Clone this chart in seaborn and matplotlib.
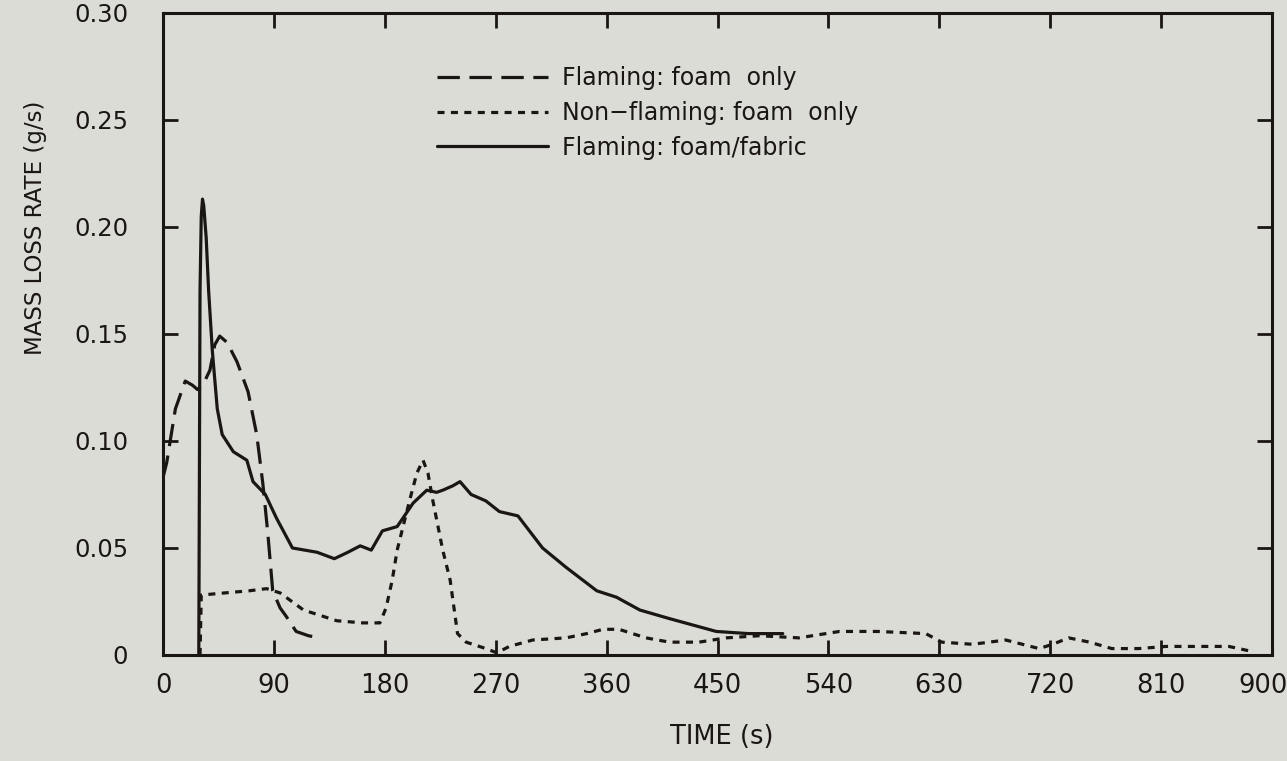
import numpy as np
import pandas as pd
import seaborn as sns
import matplotlib.transforms as mtransforms
from matplotlib import pyplot as plt

# Flaming: foam only (long dash)
flam_foam_t = [0, 3, 10, 18, 24, 28, 33, 38, 42, 46, 52, 60, 69, 76, 81, 85, 89, 95, 100, 108, 118, 127]
flam_foam_y = [0.083, 0.090, 0.115, 0.128, 0.126, 0.124, 0.127, 0.133, 0.145, 0.149, 0.146, 0.137, 0.123, 0.103,
               0.080, 0.057, 0.030, 0.022, 0.018, 0.011, 0.009, 0.008]

# Non-flaming: foam only (short dash)
nonflam_t = [30, 31, 50, 70, 84, 95, 114, 141, 162, 176, 181, 186, 190, 200, 206, 211, 215, 219, 227, 233, 239, 246,
             262, 271, 281, 300, 327, 344, 357, 370, 392, 411, 435, 457, 484, 516, 549, 580, 619, 632, 657, 684,
             711, 722, 735, 752, 770, 792, 814, 841, 865, 881]
nonflam_y = [0.0, 0.028, 0.029, 0.030, 0.031, 0.029, 0.021, 0.016, 0.015, 0.015, 0.022, 0.035, 0.049, 0.072, 0.085,
             0.091, 0.085, 0.072, 0.049, 0.035, 0.010, 0.006, 0.003, 0.001, 0.004, 0.007, 0.008, 0.010, 0.012, 0.012,
             0.008, 0.006, 0.006, 0.008, 0.009, 0.008, 0.011, 0.011, 0.010, 0.006, 0.005, 0.007, 0.003, 0.005, 0.008,
             0.006, 0.003, 0.003, 0.004, 0.004, 0.004, 0.002]

# Flaming: foam/fabric (solid)
fabric_t = [29, 30, 31, 32, 33, 35, 37, 40, 44, 48, 57, 68, 73, 83, 92, 105, 115, 125, 139, 150, 160, 169, 178, 190,
            203, 214, 222, 227, 235, 241, 250, 262, 273, 288, 308, 327, 352, 368, 387, 411, 430, 449, 475, 503]
fabric_y = [0.0, 0.17, 0.205, 0.213, 0.210, 0.195, 0.170, 0.142, 0.115, 0.103, 0.095, 0.091, 0.081, 0.075, 0.064,
            0.050, 0.049, 0.048, 0.045, 0.048, 0.051, 0.049, 0.058, 0.060, 0.071, 0.077, 0.076, 0.077, 0.079, 0.081,
            0.075, 0.072, 0.067, 0.065, 0.050, 0.041, 0.030, 0.027, 0.021, 0.017, 0.014, 0.011, 0.010, 0.010]

x_ticks = [0, 90, 180, 270, 360, 450, 540, 630, 720, 810, 900]
y_ticks = [0, 0.05, 0.10, 0.15, 0.20, 0.25, 0.30]
y_tick_labels = ['0', '0.05', '0.10', '0.15', '0.20', '0.25', '0.30']

bg = '#dcdcd6'
ink = '#1a1614'

sns.set_style('ticks')
plt.rcParams['font.family'] = ['DejaVu Sans']

fig = plt.figure(figsize=(12.87, 7.61), dpi=100, facecolor=bg)
ax = fig.add_axes([0.1267, 0.1393, 0.8616, 0.8437])
ax.set_facecolor(bg)

sns.lineplot(x=flam_foam_t, y=flam_foam_y, ax=ax, color=ink, lw=2.3, sort=False,
             label='Flaming: foam  only', linestyle=(0, (7, 3)))
sns.lineplot(x=nonflam_t, y=nonflam_y, ax=ax, color=ink, lw=2.3, sort=False,
             label='Non\u2212flaming: foam  only', linestyle=(0, (2.2, 2.0)))
sns.lineplot(x=fabric_t, y=fabric_y, ax=ax, color=ink, lw=2.3, sort=False,
             label='Flaming: foam/fabric', linestyle='-')

ax.set_xlim(0, 900)
ax.set_ylim(0, 0.30)
ax.set_xticks(x_ticks)
ax.set_yticks(y_ticks)
ax.set_yticklabels(y_tick_labels)
ax.tick_params(direction='in', length=11, width=2, colors=ink, top=True, right=True)
ax.tick_params(axis='y', pad=25, labelsize=17.5)
ax.tick_params(axis='x', pad=13, labelsize=18.5)
for s in ax.spines.values():
    s.set_linewidth(2.2)
    s.set_color(ink)

# last x label sits against the figure edge
last = ax.get_xticklabels()[-1]
last.set_transform(last.get_transform() + mtransforms.ScaledTranslation(-9 / 100, 0, fig.dpi_scale_trans))

ax.set_xlabel('TIME (s)', fontsize=18.5, color=ink)
ax.xaxis.set_label_coords(0.504, -0.108)
ax.set_ylabel('MASS LOSS RATE (g/s)', fontsize=16.5, color=ink)
ax.yaxis.set_label_coords(-0.105, 0.665)

leg = ax.legend(loc='upper left', bbox_to_anchor=(0.228, 0.95), frameon=False, fontsize=17,
                handlelength=4.7, handletextpad=0.6, labelspacing=0.45, labelcolor=ink)

fig.savefig('out.png', dpi=100, facecolor=bg)
